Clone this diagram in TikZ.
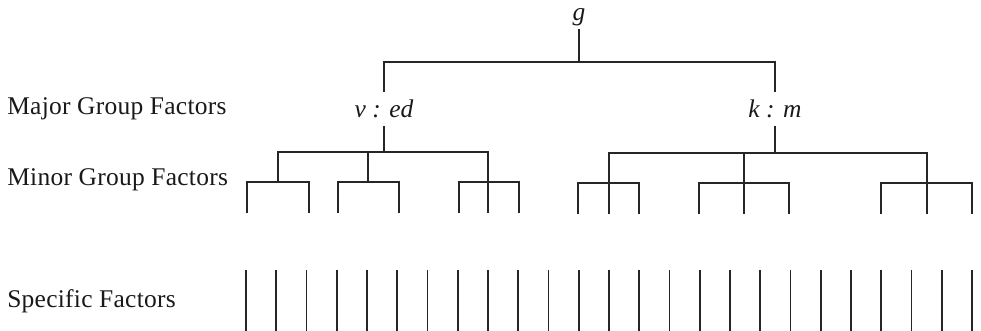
\documentclass[tikz,border=0pt]{standalone}
\usepackage{fontspec}
\setmainfont{Liberation Serif}
\usetikzlibrary{positioning}

\newcommand\labelsize{\fontsize{14.5}{17}\selectfont}

\begin{document}
\begin{tikzpicture}[
  x=0.02cm, y=-0.02cm,
  tree/.style={line width=1.1pt, draw=black!85, line cap=rect},
  lvl/.style={anchor=base west, inner sep=0pt, text=black!90,
              font=\labelsize\addfontfeatures{LetterSpace=1}},
  gen/.style={font=\labelsize\itshape, inner sep=2pt, text=black!90},
  fac/.style={font=\labelsize\itshape, inner xsep=1pt, inner ysep=5pt,
              text height=10pt, text depth=0pt, text=black!90},
]
\useasboundingbox (0,0) rectangle (981,331);

% Level labels
\node[lvl] (major) at (7,115) {Major Group Factors};
\node[lvl] (minor) at (7,186) {Minor Group Factors};
\node[lvl] (specific) at (7,307) {Specific Factors};

% General factor and the two major group factors
\node[gen, anchor=south] (g) at (579,30) {g};
\node[fac] (ved) at (384,109) {v : ed};
\node[fac] (km) at (775,109) {k : m};

\coordinate (gbar) at (579,62);
\draw[tree] (g) -- (gbar);
\draw[tree] (ved) |- (gbar);
\draw[tree] (km) |- (gbar);

% Minor group factors under v : ed
\coordinate (m1) at (278,152);
\coordinate (m2) at (368,152);
\coordinate (m3) at (488,152);
\draw[tree] (ved) -- (ved |- m1);
\draw[tree] (m1) -- (m3);

% Minor group factors under k : m
\coordinate (m4) at (609,153);
\coordinate (m5) at (744,153);
\coordinate (m6) at (927,153);
\draw[tree] (km) -- (km |- m4);
\draw[tree] (m4) -- (m6);

% Brackets of the minor groups
\foreach \m/\l/\r/\mid in {m1/247/309/0, m2/338/399/0, m3/459/519/1,
                           m4/578/639/1, m5/699/789/1, m6/881/972/1} {
  \draw[tree] (\m) -- ++(0,30) coordinate (\m-j);
  \draw[tree] (\l,0 |- \m-j) ++(0,30) -- ++(0,-30) -- (\r,0 |- \m-j) -- ++(0,30);
  \ifnum\mid=1 \draw[tree] (\m-j) -- ++(0,30); \fi
}

% Specific factors
\foreach \i in {0,...,24}
  \draw[tree] ({246+30.25*\i},271) -- ++(0,60);

\end{tikzpicture}
\end{document}
